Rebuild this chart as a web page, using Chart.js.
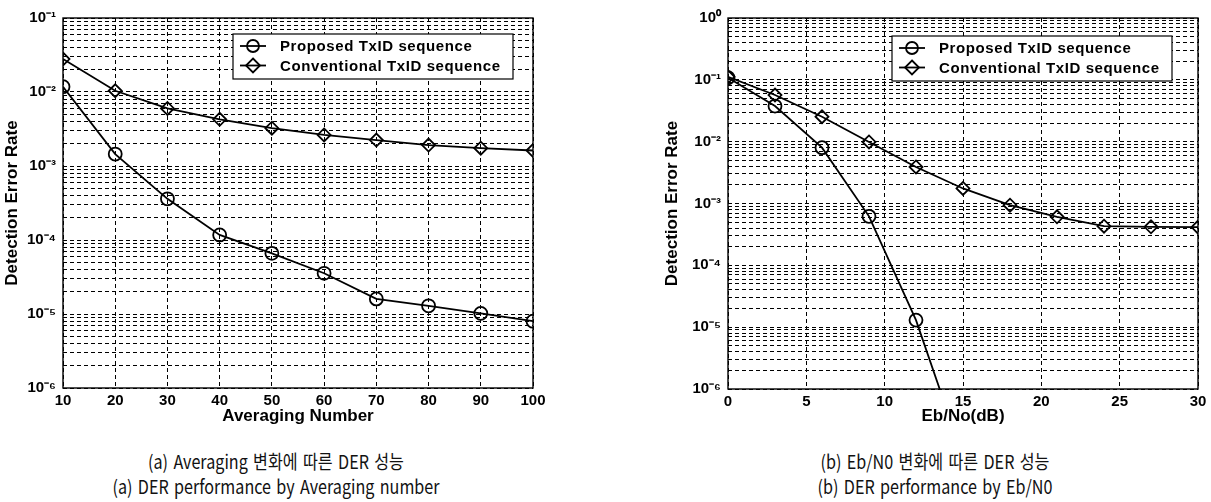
<!DOCTYPE html>
<html>
<head>
<meta charset="utf-8">
<script src="https://cdn.jsdelivr.net/npm/chart.js@4.4.1/dist/chart.umd.min.js"></script>
<style>
    body { margin: 0; background: #fff; width: 1211px; height: 502px; position: relative; overflow: hidden; }
    .panel { position: absolute; top: 0; height: 440px; }
    .caption { position: absolute; font-family: 'Noto Sans CJK KR', sans-serif; font-size: 19px; color: #111; white-space: nowrap; transform: translateX(-50%) scaleX(0.85); transform-origin: 50% 50%; line-height: 22px; word-spacing: 2px; }
</style>
</head>
<body>
<div class="panel" style="left:0;width:560px"><canvas id="chartA"></canvas></div>
<div class="panel" style="left:660px;width:551px"><canvas id="chartB"></canvas></div>

<div class="caption" style="left:276px;top:450px">(a) Averaging 변화에 따른 DER 성능</div>
<div class="caption" style="left:276px;top:475px">(a) DER performance by Averaging number</div>
<div class="caption" style="left:935px;top:450px">(b) Eb/N0 변화에 따른 DER 성능</div>
<div class="caption" style="left:935px;top:475px">(b) DER performance by Eb/N0</div>

<script>
// (a) averaging number
const averaging = [10, 20, 30, 40, 50, 60, 70, 80, 90, 100];
const proposedAvg = [0.0118, 0.00145, 0.00036, 0.000117, 0.000066, 0.0000355, 0.000016, 0.0000129, 0.0000102, 0.000008];
const conventionalAvg = [0.0279, 0.0104, 0.0060, 0.00427, 0.00324, 0.00263, 0.00224, 0.00192, 0.00174, 0.00162];

// (b) Eb/No (dB)
const ebno = [0, 3, 6, 9, 12, 15, 18, 21, 24, 27, 30];
const proposedEb = [0.108, 0.0377, 0.0080, 0.00062, 0.000013, 0.00000008, null, null, null, null, null];
const conventionalEb = [0.112, 0.0568, 0.0253, 0.0099, 0.0039, 0.00175, 0.00094, 0.00061, 0.00043, 0.00042, 0.000415];

const seriesNames = ['Proposed TxID sequence', 'Conventional TxID sequence'];

const FONT = "'Liberation Sans', Arial, sans-serif";
const SUP = { '-': '⁻', '0': '⁰', '1': '¹', '2': '²', '3': '³', '4': '⁴', '5': '⁵', '6': '⁶', '7': '⁷', '8': '⁸', '9': '⁹' };

function powLabel(v) {
    const e = Math.round(Math.log10(v));
    if (Math.abs(v / Math.pow(10, e) - 1) > 1e-6) return '';
    return '10' + String(e).split('').map(c => SUP[c]).join('');
}

// every 1..9 x 10^n so the minor grid shows like matlab
function logTicks(minExp, maxExp) {
    const out = [];
    for (let e = minExp; e < maxExp; e++) {
        for (let m = 1; m < 10; m++) out.push({ value: m * Math.pow(10, e) });
    }
    out.push({ value: Math.pow(10, maxExp) });
    return out;
}

const boxPlugin = {
    id: 'boxAndLegend',
    afterDraw(chart, args, opts) {
        const { ctx, chartArea: a } = chart;
        ctx.save();
        ctx.strokeStyle = '#000';
        ctx.lineWidth = 1.4;
        ctx.strokeRect(a.left, a.top, a.right - a.left, a.bottom - a.top);

        // legend box
        const w = 280, h = 45;
        const x = a.right - opts.right - w, y = a.top + opts.top;
        ctx.fillStyle = '#fff';
        ctx.fillRect(x, y, w, h);
        ctx.lineWidth = 1.2;
        ctx.strokeRect(x, y, w, h);
        ctx.font = 'bold 15px ' + FONT;
        ctx.letterSpacing = '0.6px';
        ctx.textBaseline = 'middle';
        ctx.lineWidth = 1.8;
        [0, 1].forEach(i => {
            const cy = y + 12 + i * 19.5;
            ctx.beginPath();
            ctx.moveTo(x + 7, cy);
            ctx.lineTo(x + 33, cy);
            ctx.stroke();
            ctx.beginPath();
            if (i === 0) {
                ctx.arc(x + 20, cy, 6, 0, Math.PI * 2);
            } else {
                ctx.moveTo(x + 20, cy - 7);
                ctx.lineTo(x + 27, cy);
                ctx.lineTo(x + 20, cy + 7);
                ctx.lineTo(x + 13, cy);
                ctx.closePath();
            }
            ctx.stroke();
            ctx.fillStyle = '#000';
            ctx.fillText(seriesNames[i], x + 47, cy + 1);
        });
        ctx.restore();
    }
};

function makeChart(id, xs, ys1, ys2, opt) {
    const ds = (ys, style, r) => ({
        data: xs.map((x, i) => ({ x: x, y: ys[i] })),
        borderColor: '#000',
        borderWidth: 1.8,
        pointStyle: style,
        pointRadius: r,
        pointBorderWidth: 1.8,
        pointBackgroundColor: 'rgba(0,0,0,0)',
        pointBorderColor: '#000',
        tension: 0,
        spanGaps: false
    });

    const tickFont = { family: FONT, size: 15, weight: 'bold' };
    const titleFont = { family: FONT, size: 17, weight: 'bold' };

    new Chart(document.getElementById(id), {
        type: 'line',
        data: { datasets: [ds(ys1, 'circle', 6.5), ds(ys2, 'rectRot', 6.5)] },
        options: {
            responsive: true,
            maintainAspectRatio: false,
            animation: false,
            layout: { padding: { top: opt.padTop, right: opt.padRight, left: 0, bottom: 0 } },
            plugins: {
                legend: { display: false },
                tooltip: { enabled: false },
                boxAndLegend: { right: opt.legRight, top: opt.legTop }
            },
            scales: {
                x: {
                    type: 'linear',
                    min: opt.xMin, max: opt.xMax,
                    afterFit: s => { s.height = opt.xH; },
                    ticks: { stepSize: opt.xStep, color: '#000', padding: 4, font: tickFont },
                    grid: { color: '#000', lineWidth: 1, drawTicks: false },
                    border: { display: false, dash: [4, 3] },
                    title: { display: true, text: opt.xTitle, color: '#000', font: titleFont, padding: { top: 0, bottom: 13 } }
                },
                y: {
                    type: 'logarithmic',
                    min: Math.pow(10, opt.yMinExp), max: Math.pow(10, opt.yMaxExp),
                    afterFit: s => { s.width = opt.yW; },
                    afterBuildTicks: s => { s.ticks = logTicks(opt.yMinExp, opt.yMaxExp); },
                    ticks: { autoSkip: false, color: '#000', padding: 7, callback: v => powLabel(v), font: tickFont },
                    grid: { color: '#000', lineWidth: 1, drawTicks: false },
                    border: { display: false, dash: [4, 3] },
                    title: { display: true, text: 'Detection Error Rate', color: '#000', font: titleFont, padding: { top: 2, bottom: 0 } }
                }
            }
        },
        plugins: [boxPlugin]
    });
}

makeChart('chartA', averaging, proposedAvg, conventionalAvg, {
    xMin: 10, xMax: 100, xStep: 10, xTitle: 'Averaging Number',
    yMinExp: -6, yMaxExp: -1,
    yW: 63, xH: 52, padTop: 18, padRight: 27,
    legRight: 20, legTop: 16
});

makeChart('chartB', ebno, proposedEb, conventionalEb, {
    xMin: 0, xMax: 30, xStep: 5, xTitle: 'Eb/No(dB)',
    yMinExp: -6, yMaxExp: 0,
    yW: 68, xH: 51, padTop: 18, padRight: 13,
    legRight: 26, legTop: 18
});
</script>
</body>
</html>
